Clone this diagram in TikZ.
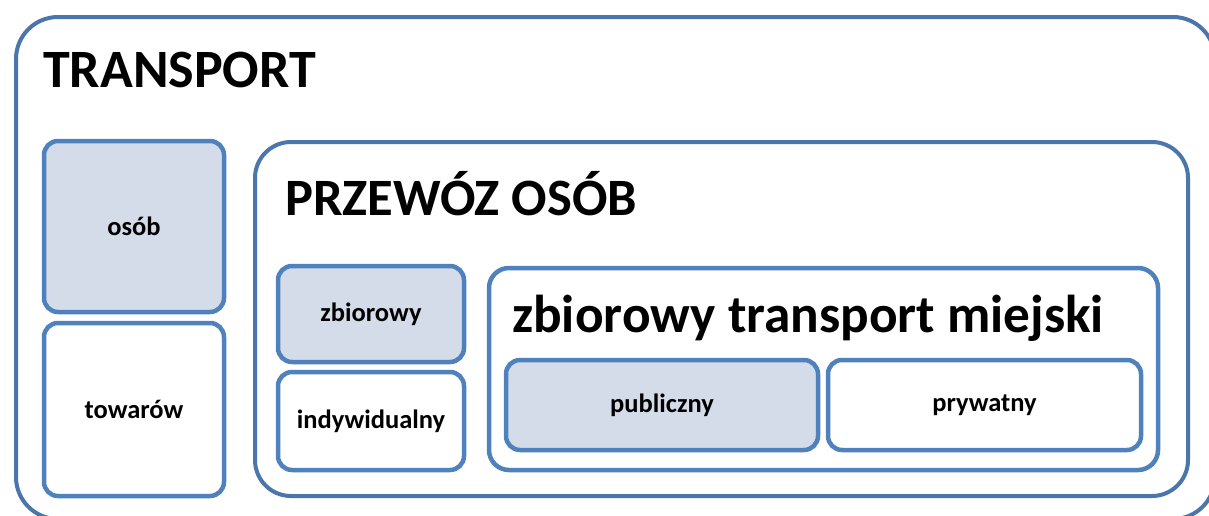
\documentclass[tikz,border=0pt]{standalone}
\usepackage{fontspec}
\setmainfont{Carlito}
\definecolor{boxblue}{HTML}{4F81BD}
\definecolor{frameblue}{HTML}{4A76AC}
\definecolor{lightfill}{HTML}{D4DCEA}
\begin{document}
\begin{tikzpicture}[x=1pt,y=-1pt,
  frame/.style={draw=frameblue, line width=4pt, rectangle, inner sep=0pt},
  box/.style={draw=boxblue, line width=4.5pt, rectangle, rounded corners=14pt, inner sep=0pt,
    font=\bfseries\fontsize{26.5}{30}\selectfont},
  shaded/.style={box, fill=lightfill},
  plain/.style={box, fill=white},
  title/.style={anchor=base west, inner sep=0pt, font=\bfseries\fontsize{#1}{#1}\selectfont}
]
\useasboundingbox (0,0) rectangle (1209,515);
\clip (0,0) rectangle (1209,515);
\fill[white] (0,0) rectangle (1209,515);
% outer frame
\node[frame, rounded corners=42pt, minimum width=1199pt, minimum height=502pt] (outer) at (615.5,268) {};
\node[title=54] (ttransport) at (43,87) {TRANSPORT};
% left column
\node[shaded, minimum width=180pt, minimum height=171pt] (osob) at (134,226.5) {osób};
\node[plain, minimum width=180pt, minimum height=173pt] (towarow) at (134,409.5) {towarów};
% przewoz osob frame
\node[frame, rounded corners=36pt, minimum width=933pt, minimum height=354pt] (przewoz) at (721.5,319) {};
\node[title=52.5] (tprzewoz) at (285,215) {PRZEWÓZ OSÓB};
\node[shaded, minimum width=186pt, minimum height=96pt] (zbiorowy) at (371,314) {zbiorowy};
\node[plain, minimum width=186pt, minimum height=98pt] (indyw) at (371,421) {indywidualny};
% zbiorowy transport miejski
\node[box, fill=white, rounded corners=20pt, minimum width=669pt, minimum height=202pt] (ztm) at (823.5,369) {};
\node[title=53.3] (tztm) at (512,332) {zbiorowy transport miejski};
\node[shaded, minimum width=312pt, minimum height=90pt] (publ) at (662,405) {publiczny};
\node[plain, minimum width=313pt, minimum height=90pt] (pryw) at (984.5,405) {prywatny};
\end{tikzpicture}
\end{document}
